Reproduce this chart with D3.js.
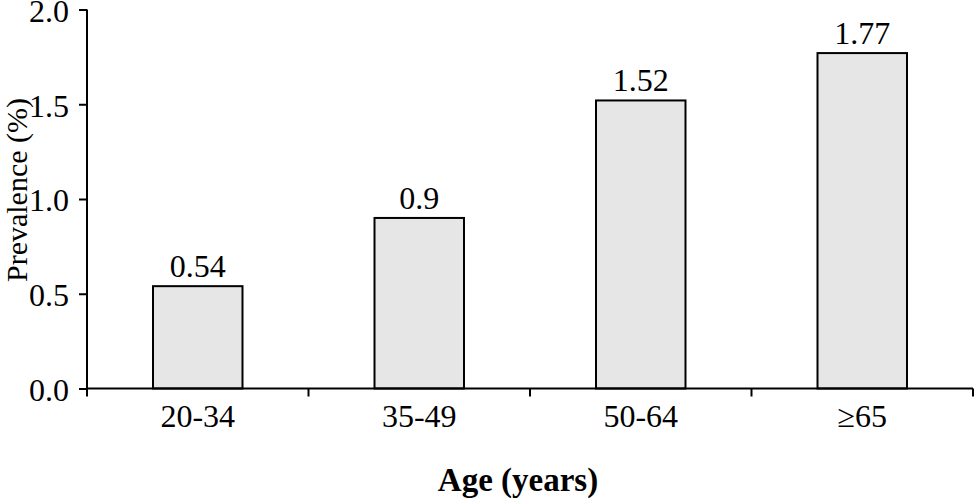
<!DOCTYPE html>
<html>
<head>
<meta charset="utf-8">
<script src="https://cdn.jsdelivr.net/npm/d3@7"></script>
<style>
  html, body { margin: 0; padding: 0; background: #fff; }
  svg { display: block; }
  text { font-family: "Liberation Serif", "Times New Roman", serif; fill: #000; }
</style>
</head>
<body>
<svg id="chart" width="975" height="500"></svg>
<script>
const categories = ["20-34", "35-49", "50-64", "\u226565"];
const prevalence = [0.54, 0.9, 1.52, 1.77];
const valueLabels = ["0.54", "0.9", "1.52", "1.77"];
const yTicks = [0, 0.5, 1.0, 1.5, 2.0];

const svg = d3.select("#chart");
const margin = { left: 87, right: 2, top: 10, bottom: 112 };
const W = 975, H = 500;

const x = d3.scaleBand()
  .domain(categories)
  .range([margin.left, W - margin.right])
  .paddingInner(0.596)
  .paddingOuter(0.298);

const y = d3.scaleLinear()
  .domain([0, 2])
  .range([388.5, 9.5]);

// bars
svg.append("g").selectAll("rect")
  .data(categories)
  .join("rect")
  .attr("x", d => x(d))
  .attr("y", (d, i) => y(prevalence[i]))
  .attr("width", x.bandwidth())
  .attr("height", (d, i) => y(0) - y(prevalence[i]))
  .attr("fill", "#e6e6e6")
  .attr("stroke", "#000")
  .attr("stroke-width", 2);

// value labels
svg.append("g").selectAll("text")
  .data(categories)
  .join("text")
  .attr("x", d => x(d) + x.bandwidth() / 2)
  .attr("y", (d, i) => y(prevalence[i]) - 9)
  .attr("text-anchor", "middle")
  .attr("font-size", 32)
  .text((d, i) => valueLabels[i]);

// y axis
const yAxis = d3.axisLeft(y)
  .tickValues(yTicks)
  .tickFormat(d3.format(".1f"))
  .tickSize(8)
  .tickPadding(10);
const gy = svg.append("g")
  .attr("transform", `translate(${margin.left},0)`)
  .call(yAxis);
gy.select(".domain").attr("stroke-width", 2).attr("d", `M0,${y(2)}V${y(0)}`);
gy.selectAll(".tick line").attr("stroke-width", 2);
gy.selectAll(".tick text")
  .attr("font-size", 32)
  .attr("font-family", "Liberation Serif, Times New Roman, serif")
  .attr("fill", "#000")
  .attr("dy", "0.37em");

// x axis (ticks at band boundaries)
const xr = x.range();
const step = x.step();
const boundaries = d3.range(categories.length + 1).map(i => xr[0] + i * step);
const gx = svg.append("g");
gx.append("line")
  .attr("x1", xr[0]).attr("x2", xr[1])
  .attr("y1", y(0)).attr("y2", y(0))
  .attr("stroke", "#000").attr("stroke-width", 2);
gx.selectAll("line.tk")
  .data(boundaries)
  .join("line")
  .attr("class", "tk")
  .attr("x1", d => d).attr("x2", d => d)
  .attr("y1", y(0)).attr("y2", y(0) + 8)
  .attr("stroke", "#000").attr("stroke-width", 2);
gx.selectAll("text")
  .data(categories)
  .join("text")
  .attr("x", d => x(d) + x.bandwidth() / 2)
  .attr("y", 427)
  .attr("text-anchor", "middle")
  .attr("font-size", 32)
  .text(d => d);

// axis titles
svg.append("text")
  .attr("x", 518)
  .attr("y", 491)
  .attr("text-anchor", "middle")
  .attr("font-size", 33)
  .attr("font-weight", "bold")
  .text("Age (years)");

svg.append("text")
  .attr("transform", "translate(27,190) rotate(-90)")
  .attr("text-anchor", "middle")
  .attr("font-size", 30)
  .text("Prevalence (%)");
</script>
</body>
</html>
